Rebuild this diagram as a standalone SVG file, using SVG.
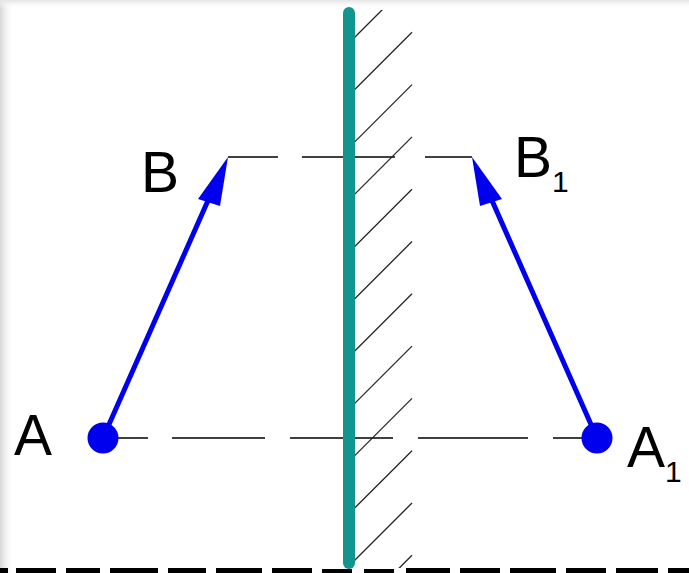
<svg xmlns="http://www.w3.org/2000/svg" width="689" height="573" viewBox="0 0 689 573">
<defs>
<linearGradient id="edgeL" x1="0" y1="0" x2="1" y2="0">
<stop offset="0" stop-color="#d6d6d6"/><stop offset="1" stop-color="#ffffff" stop-opacity="0"/>
</linearGradient>
<linearGradient id="edgeT" x1="0" y1="0" x2="0" y2="1">
<stop offset="0" stop-color="#e4e4e4"/><stop offset="1" stop-color="#ffffff" stop-opacity="0"/>
</linearGradient>
<clipPath id="hatchClip"><rect x="350" y="10" width="63" height="558"/></clipPath>
<style>
.dash{stroke:#000;stroke-width:1.6;fill:none}
.hatch{stroke:#222;stroke-width:1.3;fill:none}
.ray{stroke:#0000ee;stroke-width:5;fill:none;stroke-linecap:round}
.head{fill:#0000ee}
.dot{fill:#0000ee}
.lbl{font-family:"Liberation Sans",Arial,sans-serif;fill:#000}
.band{fill:#000}
</style>
</defs>
<rect width="689" height="573" fill="#ffffff"/>
<rect x="0" y="0" width="14" height="573" fill="url(#edgeL)"/>
<rect x="0" y="0" width="689" height="9" fill="url(#edgeT)"/>

<g id="connectors">
<g id="dash-top">
<line class="dash" x1="228" y1="157" x2="278" y2="157"/>
<line class="dash" x1="302" y1="157" x2="395" y2="157"/>
<line class="dash" x1="425" y1="157" x2="472" y2="157"/>
</g>
<g id="dash-bottom">
<line class="dash" x1="103" y1="438" x2="148" y2="438"/>
<line class="dash" x1="172" y1="438" x2="265" y2="438"/>
<line class="dash" x1="290" y1="438" x2="393" y2="438"/>
<line class="dash" x1="418" y1="438" x2="528" y2="438"/>
<line class="dash" x1="553" y1="438" x2="597" y2="438"/>
</g>
<g id="arrow-AB">
<line class="ray" x1="103" y1="438" x2="210" y2="196"/>
<polygon class="head" points="228,157 198,199 220,206"/>
</g>
<g id="arrow-A1B1">
<line class="ray" x1="597" y1="438" x2="490" y2="196"/>
<polygon class="head" points="472,157 480,206 502,199"/>
</g>
</g>

<g id="mirror">
<g id="hatching" clip-path="url(#hatchClip)">
<line class="hatch" x1="352" y1="40" x2="412" y2="-20"/>
<line class="hatch" x1="352" y1="92.3" x2="412" y2="32.3"/>
<line class="hatch" x1="352" y1="144.6" x2="412" y2="84.6"/>
<line class="hatch" x1="352" y1="196.9" x2="412" y2="136.9"/>
<line class="hatch" x1="352" y1="249.2" x2="412" y2="189.2"/>
<line class="hatch" x1="352" y1="301.5" x2="412" y2="241.5"/>
<line class="hatch" x1="352" y1="353.8" x2="412" y2="293.8"/>
<line class="hatch" x1="352" y1="406.1" x2="412" y2="346.1"/>
<line class="hatch" x1="352" y1="458.4" x2="412" y2="398.4"/>
<line class="hatch" x1="352" y1="510.7" x2="412" y2="450.7"/>
<line class="hatch" x1="352" y1="563" x2="412" y2="503"/>
<line class="hatch" x1="352" y1="615.3" x2="412" y2="555.3"/>
</g>
<line x1="349" y1="13" x2="349" y2="563" stroke="#12958f" stroke-width="12" stroke-linecap="round"/>
</g>

<g id="node-A">
<circle class="dot" cx="103" cy="438" r="15.5"/>
<text class="lbl" x="14" y="455" font-size="57">A</text>
</g>
<g id="node-B">
<text class="lbl" x="141" y="192" font-size="57">B</text>
</g>
<g id="node-B1">
<text class="lbl" x="514" y="177" font-size="57">B<tspan font-size="30" dy="15">1</tspan></text>
</g>
<g id="node-A1">
<circle class="dot" cx="597" cy="438" r="15.5"/>
<text class="lbl" x="627" y="467" font-size="57">A<tspan font-size="30" dy="15">1</tspan></text>
</g>

<g id="cropped-band">
<rect class="band" x="0" y="568" width="8" height="5"/>
<rect class="band" x="16" y="568" width="40" height="5"/>
<rect class="band" x="66" y="568" width="34" height="5"/>
<rect class="band" x="110" y="568" width="48" height="5"/>
<rect class="band" x="168" y="568" width="38" height="5"/>
<rect class="band" x="216" y="568" width="46" height="5"/>
<rect class="band" x="272" y="568" width="40" height="5"/>
<rect class="band" x="322" y="569" width="30" height="4"/>
<rect class="band" x="364" y="569" width="30" height="4"/>
<rect class="band" x="406" y="568" width="44" height="5"/>
<rect class="band" x="460" y="568" width="40" height="5"/>
<rect class="band" x="510" y="568" width="46" height="5"/>
<rect class="band" x="566" y="568" width="40" height="5"/>
<rect class="band" x="616" y="568" width="42" height="5"/>
<rect class="band" x="668" y="568" width="21" height="5"/>
</g>
</svg>
